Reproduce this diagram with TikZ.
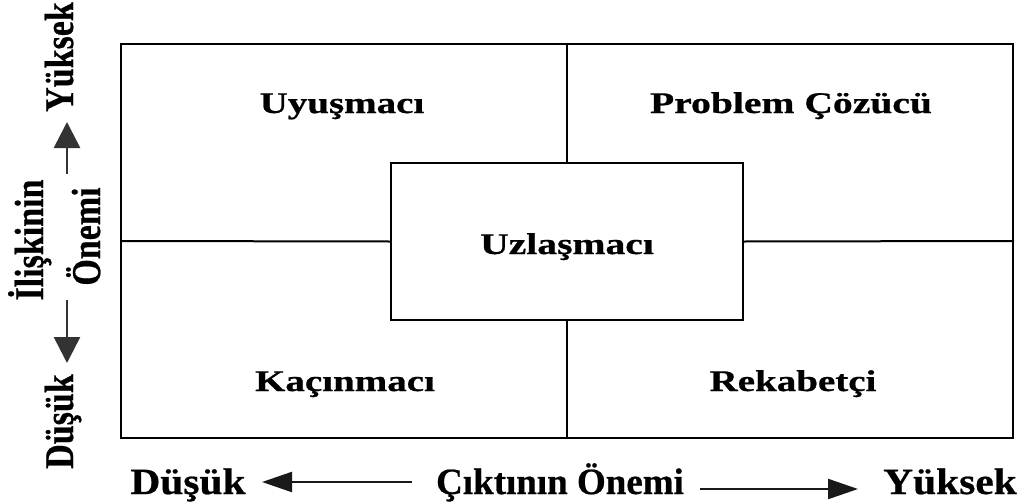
\documentclass[tikz,border=0pt]{standalone}
\usepackage{fontspec}
\setmainfont{Liberation Serif}
\newfontfamily\heavyfont[FakeBold=0.6]{Liberation Serif Bold}
\usetikzlibrary{arrows.meta}

\tikzset{
  box/.style={draw=black, line width=2pt},
  divider/.style={draw=black, line width=2pt},
  quad/.style={anchor=base, inner sep=0pt, font=\fontsize{30}{32}\selectfont\heavyfont},
  axislbl/.style={anchor=base, inner sep=0pt, font=\fontsize{37}{39}\selectfont\heavyfont},
  sidelbl/.style={rotate=90, anchor=base, inner sep=0pt, font=\fontsize{34}{36}\selectfont\heavyfont},
  harrow/.style={draw=black!90, line width=2.2pt, -{Triangle[length=30pt,width=20pt]}},
  varrow/.style={draw=black!80, line width=2.6pt, -{Triangle[length=26pt,width=26pt]}}
}

\begin{document}
\begin{tikzpicture}[x=1pt, y=-1pt]
  \useasboundingbox (0,0) rectangle (1024,503);

  % outer frame and the centre box
  \node[box, minimum width=892pt, minimum height=394pt, inner sep=0pt] (frame) at (567,241) {};
  \node[box, fill=white, minimum width=352pt, minimum height=157pt, inner sep=0pt] (mid) at (567,241.5) {};

  % quadrant dividers
  \draw[divider] (frame.north) -- (mid.north);
  \draw[divider] (mid.south) -- (frame.south);
  \draw[divider] (frame.west) -- (mid.west);
  \draw[divider] (mid.east) -- (frame.east);

  % quadrant labels
  \node[quad] (uzl)  at (567,254) {\scalebox{1.32}[1]{Uzlaşmacı}};
  \node[quad] (uyus) at (342,113) {\scalebox{1.3}[1]{Uyuşmacı}};
  \node[quad] (prob) at (791,113) {\scalebox{1.32}[1]{Problem Çözücü}};
  \node[quad] (kac)  at (345,391) {\scalebox{1.3}[1]{Kaçınmacı}};
  \node[quad] (rek)  at (793,391) {\scalebox{1.3}[1]{Rekabetçi}};

  % horizontal axis
  \node[axislbl] (xlow)  at (188,494) {\scalebox{1.12}[1]{Düşük}};
  \node[axislbl] (xname) at (560,494) {\scalebox{1.0}[1]{Çıktının Önemi}};
  \node[axislbl] (xhigh) at (950,494) {\scalebox{1.12}[1]{Yüksek}};
  \coordinate (xlTail) at (412,482);
  \coordinate (xlTip)  at (262,482);
  \coordinate (xrTail) at (700,489);
  \coordinate (xrTip)  at (858,489);
  \draw[harrow] (xlTail) -- (xlTip);
  \draw[harrow] (xrTail) -- (xrTip);

  % vertical axis
  \node[sidelbl] (yhigh)  at (73,57)    {\scalebox{1}[1.2]{Yüksek}};
  \node[sidelbl] (yname1) at (43,240)   {\scalebox{1}[1.2]{İlişkinin}};
  \node[sidelbl] (yname2) at (100,236.5){\scalebox{1}[1.2]{Önemi}};
  \node[sidelbl] (ylow)   at (73,421.5) {\scalebox{1}[1.2]{Düşük}};
  \coordinate (yuTail) at (67,174);
  \coordinate (yuTip)  at (67,122);
  \coordinate (ydTail) at (67,300);
  \coordinate (ydTip)  at (67,363);
  \draw[varrow] (yuTail) -- (yuTip);
  \draw[varrow] (ydTail) -- (ydTip);
\end{tikzpicture}
\end{document}
